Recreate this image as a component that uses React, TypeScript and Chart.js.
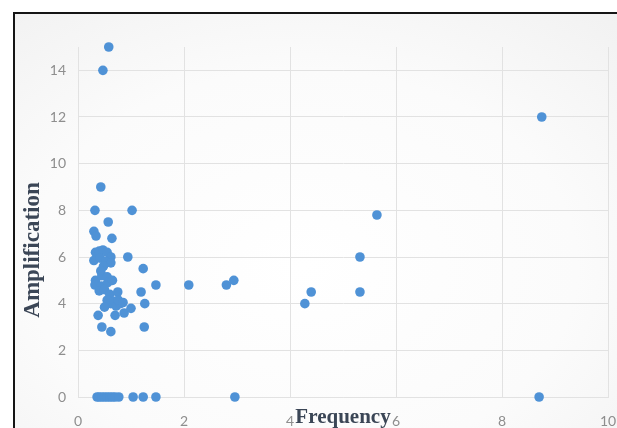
import React, { useEffect, useRef } from "react";
import { Chart, registerables } from "chart.js";

Chart.register(...registerables);

const frequency: number[] = [
  0.58, 0.47, 8.75, 0.43, 0.32, 1.02, 0.57, 0.3, 0.34, 0.64,
  0.33, 0.4, 0.47, 0.55, 0.62, 0.3, 0.42, 0.52, 0.62, 0.48,
  0.43, 0.94, 1.23, 0.33, 0.45, 0.55, 0.32, 0.44, 0.56, 0.65,
  0.4, 0.5, 0.6, 0.75, 1.19, 1.47, 0.55, 0.62, 0.68, 0.72,
  0.8, 0.76, 0.85, 0.5, 1.26, 0.38, 0.7, 0.87, 1.0, 0.45,
  0.62, 1.25, 2.09, 2.8, 2.94, 4.28, 4.4, 5.32, 5.32, 5.64,
  0.36, 0.4, 0.45, 0.5, 0.55, 0.6, 0.65, 0.7, 0.77, 1.04,
  1.23, 1.47, 2.96, 8.7,
];

const amplification: number[] = [
  15, 14, 12, 9, 8, 8, 7.5, 7.1, 6.9, 6.8,
  6.2, 6.25, 6.3, 6.2, 6.0, 5.85, 5.95, 5.8, 5.75, 5.6,
  5.4, 6.0, 5.5, 5.0, 5.2, 5.15, 4.8, 4.75, 4.9, 5.0,
  4.55, 4.6, 4.4, 4.5, 4.5, 4.8, 4.15, 4.0, 4.1, 3.9,
  4.0, 4.15, 4.05, 3.85, 4.0, 3.5, 3.5, 3.6, 3.8, 3.0,
  2.8, 3.0, 4.8, 4.8, 5.0, 4.0, 4.5, 4.5, 6.0, 7.8,
  0, 0, 0, 0, 0, 0, 0, 0, 0, 0,
  0, 0, 0, 0,
];

const xTicks: number[] = [0, 2, 4, 6, 8, 10];
const yTicks: number[] = [0, 2, 4, 6, 8, 10, 12, 14];
const xTitle = "Frequency";
const yTitle = "Amplification";

const titlePlugin = {
  id: "customTitles",
  afterDraw(chart: any) {
    const { ctx, chartArea } = chart;
    ctx.save();
    ctx.fillStyle = "#3b4656";
    ctx.font = "bold 21px 'Liberation Serif', 'DejaVu Serif', serif";
    ctx.textAlign = "center";
    ctx.textBaseline = "alphabetic";
    ctx.fillText(xTitle, (chartArea.left + chartArea.right) / 2, chartArea.bottom + 26);
    ctx.font = "bold 23px 'Liberation Serif', 'DejaVu Serif', serif";
    ctx.translate(chartArea.left - 45, chartArea.bottom - 147);
    ctx.rotate(-Math.PI / 2);
    ctx.textBaseline = "middle";
    ctx.fillText(yTitle, 0, 0);
    ctx.restore();
  },
};

export default function App() {
  const ref = useRef<HTMLCanvasElement | null>(null);

  useEffect(() => {
    document.body.style.margin = "0";
    if (!ref.current) return;
    const data = frequency.map((f, i) => ({ x: f, y: amplification[i] }));
    const chart = new Chart(ref.current, {
      type: "scatter",
      data: {
        datasets: [
          {
            data,
            backgroundColor: "#4f92d6",
            borderColor: "#4f92d6",
            borderWidth: 0,
            pointRadius: 4.8,
            pointHoverRadius: 4.8,
            clip: false,
          },
        ],
      },
      options: {
        animation: false,
        responsive: false,
        devicePixelRatio: 1,
        layout: { padding: { top: 47, right: 9, left: 0, bottom: 0 } },
        plugins: { legend: { display: false }, tooltip: { enabled: false } },
        scales: {
          x: {
            type: "linear",
            min: 0,
            max: 10,
            afterBuildTicks: (s: any) => {
              s.ticks = xTicks.map((v) => ({ value: v }));
            },
            afterFit: (s: any) => {
              s.height = 31;
              s.paddingLeft = 0;
              s.paddingRight = 0;
            },
            grid: { color: "#e2e2e2", drawTicks: false },
            border: { display: true, color: "#e2e2e2" },
            ticks: {
              padding: 16,
              color: "#8e8e8e",
              font: { family: "Lato, 'Open Sans', sans-serif", size: 14 },
            },
          },
          y: {
            type: "linear",
            min: 0,
            max: 15,
            afterBuildTicks: (s: any) => {
              s.ticks = yTicks.map((v) => ({ value: v }));
            },
            afterFit: (s: any) => {
              s.width = 78;
              s.paddingTop = 0;
              s.paddingBottom = 0;
            },
            grid: { color: "#e2e2e2", drawTicks: false },
            border: { display: true, color: "#e2e2e2" },
            ticks: {
              padding: 12,
              color: "#8e8e8e",
              font: { family: "Lato, 'Open Sans', sans-serif", size: 14 },
            },
          },
        },
      },
      plugins: [titlePlugin],
    });
    return () => chart.destroy();
  }, []);

  return (
    <div style={{ position: "fixed", left: 0, top: 0, width: 617, height: 428, background: "#ffffff", overflow: "hidden" }}>
      <div
        style={{
          position: "absolute",
          left: 13,
          top: 12,
          width: 640,
          height: 460,
          borderLeft: "2px solid #151515",
          borderTop: "2px solid #151515",
          background: "radial-gradient(ellipse at 45% 55%, #ffffff 0%, #fbfbfb 55%, #f0f0f0 100%)",
        }}
      />
      <canvas ref={ref} width={617} height={428} style={{ position: "absolute", left: 0, top: 0 }} />
    </div>
  );
}
